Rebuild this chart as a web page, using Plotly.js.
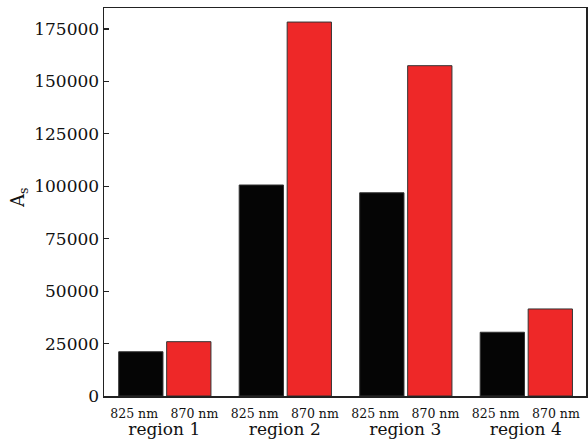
<!DOCTYPE html>
<html>
<head>
<meta charset="utf-8">
<script src="https://cdn.plot.ly/plotly-3.0.1.min.js"></script>
<style>html,body{margin:0;padding:0;background:#fff;}#chart{width:588px;height:443px;}</style>
</head>
<body>
<div id="chart"></div>
<script>
const regions = ['region 1', 'region 2', 'region 3', 'region 4'];
const wavelengths = ['825 nm', '870 nm'];
const values825 = [21100, 100600, 96900, 30400];
const values870 = [25900, 178300, 157500, 41500];
const yTitle = 'A<sub>s</sub>';

function mk(wl, vals, color, offset) {
  return {
    type: 'bar',
    name: wl,
    x: [regions, regions.map(() => '<span style="font-size:12.5px">' + wl + '</span>')],
    y: vals,
    width: 0.735,
    offset: offset,
    marker: {color: color, line: {color: '#333333', width: 1}},
    hoverinfo: 'y'
  };
}

const data = [
  mk(wavelengths[0], values825, '#050505', -0.256),
  mk(wavelengths[1], values870, '#ee2828', -0.46)
];

const layout = {
  width: 588, height: 443,
  margin: {l: 104, r: 2, t: 8, b: 47},
  paper_bgcolor: '#fff', plot_bgcolor: '#fff',
  showlegend: false,
  barmode: 'overlay',
  font: {family: 'DejaVu Serif', color: '#111'},
  xaxis: {
    type: 'multicategory',
    showdividers: false,
    showgrid: false,
    ticks: '',
    tickfont: {family: 'DejaVu Serif', size: 17, color: '#111'},
    showline: true, linecolor: '#222', linewidth: 1.5, mirror: true,
    zeroline: false
  },
  yaxis: {
    range: [0, 185000],
    dtick: 25000,
    tick0: 0,
    tickformat: 'd',
    ticks: 'inside', ticklen: 5, tickwidth: 1.2, tickcolor: '#222',
    tickfont: {family: 'DejaVu Serif', size: 17, color: '#111'},
    showgrid: false, zeroline: false,
    showline: true, linecolor: '#222', linewidth: 1.5, mirror: true
  },
  annotations: [{
    text: yTitle,
    xref: 'paper', yref: 'paper',
    x: 0, y: 0.51, xshift: -85,
    xanchor: 'center', yanchor: 'middle',
    textangle: -90,
    showarrow: false,
    font: {family: 'DejaVu Serif', size: 18, color: '#111'}
  }]
};

Plotly.newPlot('chart', data, layout, {staticPlot: true});
</script>
</body>
</html>
